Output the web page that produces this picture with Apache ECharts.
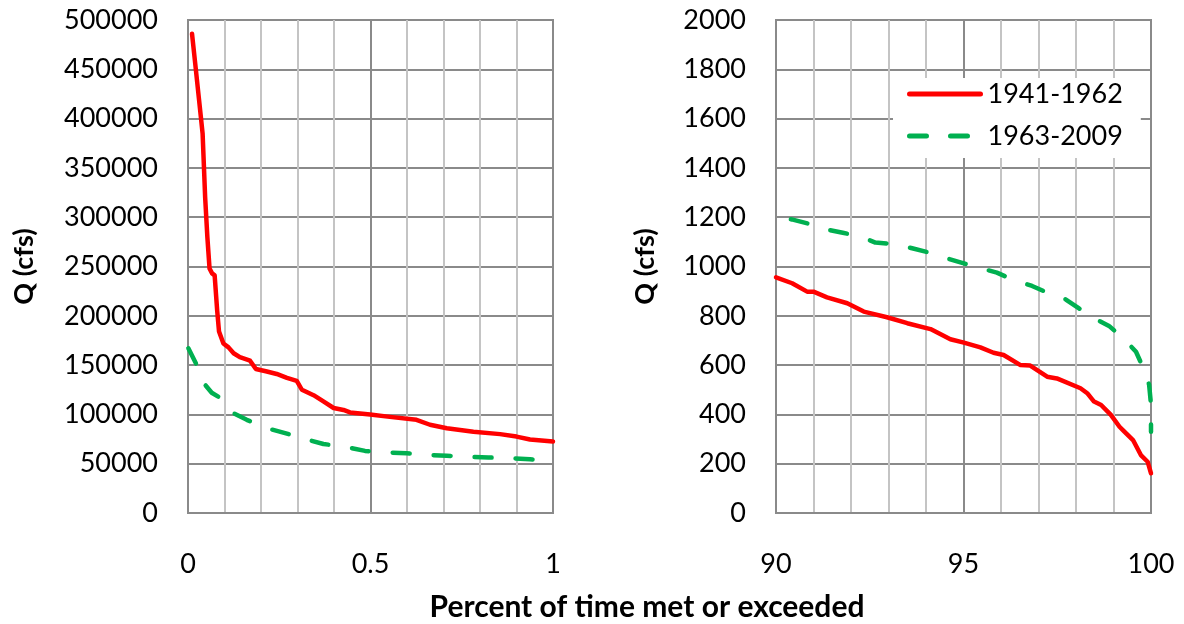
<!DOCTYPE html>
<html>
<head>
<meta charset="utf-8">
<script src="https://cdn.jsdelivr.net/npm/echarts@6/dist/echarts.min.js"></script>
<style>
  html, body { margin: 0; padding: 0; background: #fff; }
  #chart { width: 1184px; height: 624px; }
</style>
</head>
<body>
<div id="chart"></div>
<script>
// left panel: 0 - 1 percent exceedance
const leftPctRed = [0.011, 0.02, 0.03, 0.04, 0.047, 0.053, 0.059, 0.066, 0.073, 0.08, 0.085, 0.097, 0.111, 0.125, 0.142, 0.17, 0.186, 0.216, 0.243, 0.271, 0.298, 0.312, 0.344, 0.372, 0.399, 0.426, 0.444, 0.499, 0.553, 0.626, 0.663, 0.709, 0.782, 0.855, 0.9, 0.937, 1.0];
const leftQRed   = [486000, 455000, 420000, 385000, 320000, 280000, 248000, 243000, 241000, 205000, 184000, 172000, 168000, 162000, 158000, 154500, 146000, 143500, 141000, 137000, 134000, 125000, 119500, 113000, 106500, 104500, 102000, 100000, 97500, 94500, 89500, 86000, 82500, 80000, 77500, 74500, 72500];
const leftPctGreen = [0.001, 0.024, 0.047, 0.065, 0.083, 0.12, 0.161, 0.216, 0.266, 0.321, 0.371, 0.431, 0.485, 0.54, 0.599, 0.654, 0.709, 0.763, 0.823, 0.878, 0.937, 1.0];
const leftQGreen   = [167000, 150000, 130000, 122000, 118000, 102000, 94500, 86000, 81000, 75000, 70000, 67000, 63000, 61500, 60500, 59000, 58000, 57000, 56300, 55700, 54500, 52500];

// right panel: 90 - 100 percent exceedance
const rightPctRed = [90, 90.43, 90.83, 91.0, 91.36, 91.9, 92.34, 92.96, 93.5, 94.12, 94.65, 95.01, 95.45, 95.8, 96.07, 96.52, 96.78, 97.23, 97.49, 98.12, 98.3, 98.48, 98.67, 98.93, 99.16, 99.29, 99.52, 99.73, 99.91, 100];
const rightQRed   = [956, 932, 898, 898, 875, 851, 817, 794, 770, 746, 705, 691, 672, 650, 641, 600, 598, 553, 546, 506, 486, 452, 438, 398, 350, 330, 296, 235, 208, 161];
const rightPctGreen = [90, 90.42, 90.91, 91.31, 91.78, 92.25, 92.65, 93.18, 93.63, 94.1, 94.47, 94.94, 95.36, 95.89, 96.29, 96.83, 97.23, 97.72, 98.08, 98.53, 98.88, 99.29, 99.6, 99.82, 99.95, 100, 100];
const rightQGreen   = [1200, 1191, 1172, 1151, 1137, 1121, 1097, 1091, 1074, 1056, 1037, 1016, 997, 975, 948, 921, 894, 867, 830, 786, 759, 705, 654, 580, 520, 440, 330];

const seriesNames = ["1941-1962", "1963-2009"];
const xTitle = "Percent of time met or exceeded";
const yTitle = "Q (cfs)";

const zip = (xs, ys) => xs.map((x, i) => [x, ys[i]]);

const FONT = "Lato";
const darkGrid = "#8a8a8a";
const lightGrid = "#c4c4c4";

function xAxisOf(idx, min, max, interval) {
  return {
    type: "value",
    gridIndex: idx,
    min: min,
    max: max,
    interval: interval,
    axisLine: { show: true, lineStyle: { color: darkGrid, width: 2 } },
    axisTick: { show: false },
    axisLabel: { margin: 38, color: "#000", fontFamily: FONT, fontSize: 27, formatter: (v) => String(v) },
    splitLine: { show: true, lineStyle: { color: darkGrid, width: 2 } },
    minorTick: { show: false, splitNumber: 5 },
    minorSplitLine: { show: true, lineStyle: { color: lightGrid, width: 2 } },
  };
}

function yAxisOf(idx, max, interval, gap) {
  return {
    type: "value",
    gridIndex: idx,
    min: 0,
    max: max,
    interval: interval,
    name: yTitle,
    nameLocation: "middle",
    nameGap: gap,
    nameTextStyle: { color: "#000", fontFamily: FONT, fontWeight: "bold", fontSize: 27 },
    axisLine: { show: true, lineStyle: { color: darkGrid, width: 2 } },
    axisTick: { show: false },
    axisLabel: { margin: 30, color: "#000", fontFamily: FONT, fontSize: 27, formatter: (v) => String(v) },
    splitLine: { show: true, lineStyle: { color: darkGrid, width: 2 } },
  };
}

function redLine(name, idx, data) {
  return {
    name: name,
    type: "line",
    xAxisIndex: idx,
    yAxisIndex: idx,
    data: data,
    showSymbol: false,
    symbol: "none",
    lineStyle: { color: "#ff0000", width: 4.5, cap: "round", join: "round" },
    itemStyle: { color: "#ff0000" },
  };
}

function greenLine(name, idx, data, offset) {
  return {
    name: name,
    type: "line",
    xAxisIndex: idx,
    yAxisIndex: idx,
    data: data,
    showSymbol: false,
    symbol: "none",
    lineStyle: { color: "#00b050", width: 4.5, type: [17, 24], dashOffset: offset, cap: "round", join: "round" },
    itemStyle: { color: "#00b050" },
  };
}

const myChart = echarts.init(document.getElementById("chart"));
myChart.setOption({
  backgroundColor: "#fff",
  animation: false,
  grid: [
    { left: 188, top: 20, width: 365, height: 493, show: true, borderColor: darkGrid, borderWidth: 2 },
    { left: 776, top: 20, width: 375, height: 493, show: true, borderColor: darkGrid, borderWidth: 2 },
  ],
  xAxis: [xAxisOf(0, 0, 1, 0.5), xAxisOf(1, 90, 100, 5)],
  yAxis: [yAxisOf(0, 500000, 50000, 150), yAxisOf(1, 2000, 200, 117)],
  legend: {
    data: seriesNames,
    orient: "vertical",
    left: 893,
    top: 78,
    padding: [0, 8, 6, 14],
    backgroundColor: "#fff",
    itemWidth: 71,
    itemHeight: 14,
    itemGap: 10,
    itemStyle: { opacity: 0, borderWidth: 0 },
    lineStyle: { width: 5, cap: "round" },
    textStyle: { color: "#000", fontFamily: FONT, fontSize: 27, lineHeight: 32, padding: [0, 10, 0, 2] },
  },
  graphic: [
    {
      type: "text",
      x: 647,
      y: 607,
      style: {
        text: xTitle,
        fill: "#000",
        font: "bold 30px " + FONT,
        align: "center",
        verticalAlign: "middle",
      },
    },
  ],
  series: [
    redLine(seriesNames[0], 0, zip(leftPctRed, leftQRed)),
    greenLine(seriesNames[1], 0, zip(leftPctGreen, leftQGreen), 0),
    redLine(seriesNames[0], 1, zip(rightPctRed, rightQRed)),
    greenLine(seriesNames[1], 1, zip(rightPctGreen, rightQGreen), 26),
  ],
});
</script>
</body>
</html>
